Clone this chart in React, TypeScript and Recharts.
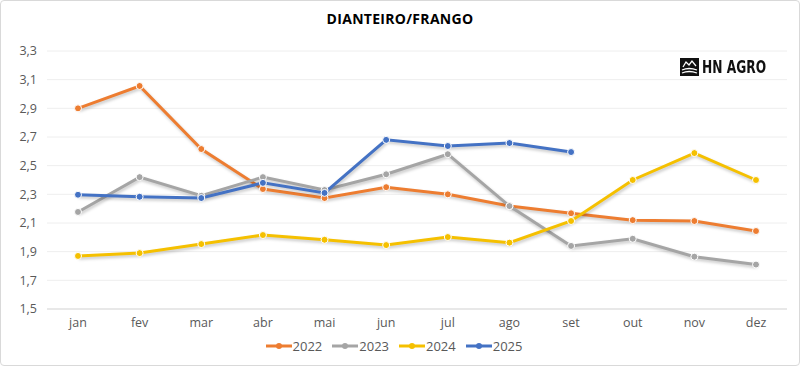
import { CartesianGrid, Legend, Line, LineChart, XAxis, YAxis } from "recharts";

const months = ["jan", "fev", "mar", "abr", "mai", "jun", "jul", "ago", "set", "out", "nov", "dez"];
const y2022 = [2.9, 3.056, 2.616, 2.337, 2.274, 2.35, 2.3, 2.218, 2.168, 2.12, 2.114, 2.044];
const y2023 = [2.177, 2.42, 2.29, 2.42, 2.33, 2.44, 2.58, 2.218, 1.94, 1.99, 1.865, 1.81];
const y2024 = [1.87, 1.89, 1.953, 2.016, 1.983, 1.946, 2.002, 1.963, 2.114, 2.4, 2.588, 2.4];
const y2025 = [2.297, 2.283, 2.274, 2.38, 2.31, 2.68, 2.637, 2.658, 2.595];
const yTicks = [1.5, 1.7, 1.9, 2.1, 2.3, 2.5, 2.7, 2.9, 3.1, 3.3];

const series = [
  { key: "2022", color: "#ED7D31" },
  { key: "2023", color: "#A5A5A5" },
  { key: "2024", color: "#F5C000" },
  { key: "2025", color: "#4472C4" }
];

const data = months.map((m, i) => ({
  month: m,
  "2022": y2022[i],
  "2023": y2023[i],
  "2024": y2024[i],
  "2025": y2025[i]
}));

const font = "'Open Sans', 'Noto Sans', sans-serif";

function LegendContent() {
  return (
    <div style={{ display: "flex", justifyContent: "center", gap: 10, fontFamily: font, fontSize: 13, color: "#595959", marginTop: -2 }}>
      {series.map((s) => (
        <div key={s.key} style={{ display: "flex", alignItems: "center", gap: 1 }}>
          <svg width={26} height={10}>
            <line x1={0} y1={5} x2={26} y2={5} stroke={s.color} strokeWidth={3} />
            <circle cx={13} cy={5} r={3} fill={s.color} />
          </svg>
          <span>{s.key}</span>
        </div>
      ))}
    </div>
  );
}

export default function App() {
  return (
    <div
      style={{
        position: "absolute",
        left: 0,
        top: 0,
        width: 798,
        height: 364,
        border: "1px solid #d9d9d9",
        borderRadius: 4,
        background: "#fff",
        fontFamily: font
      }}
    >
      <style>{`.recharts-line-curve { filter: drop-shadow(1px 2px 1.5px rgba(0,0,0,0.22)); }`}</style>
      <div style={{ position: "absolute", top: 8, width: "100%", textAlign: "center", fontWeight: 700, fontSize: 14, color: "#000", letterSpacing: 0.3 }}>
        DIANTEIRO/FRANGO
      </div>
      <div style={{ position: "absolute", left: 679, top: 56, display: "flex", alignItems: "center", gap: 3 }}>
        <svg width={19} height={18}>
          <rect x={0} y={0} width={19} height={18} fill="#111" />
          <path d="M2 12 Q9 9 17 12" stroke="#fff" strokeWidth={1.3} fill="none" />
          <path d="M2 15 Q9 12 17 15" stroke="#fff" strokeWidth={1.3} fill="none" />
          <path d="M3 9 L6 4 L9 7 L12 3 L16 8" stroke="#fff" strokeWidth={1.3} fill="none" />
        </svg>
        <span
          style={{
            display: "inline-block",
            fontFamily: "'DejaVu Sans', sans-serif",
            fontWeight: 700,
            fontSize: 17,
            color: "#111",
            transform: "scaleX(0.72)",
            transformOrigin: "left center",
            whiteSpace: "nowrap"
          }}
        >
          HN AGRO
        </span>
      </div>
      <LineChart width={798} height={364} data={data} margin={{ top: 50, right: 12, left: 0, bottom: 4 }}>
        <CartesianGrid vertical={false} stroke="#eeeeee" />
        <XAxis
          dataKey="month"
          height={30}
          padding={{ left: 31, right: 31 }}
          tickLine={false}
          axisLine={{ stroke: "#d9d9d9" }}
          tick={{ fill: "#595959", fontSize: 12.5, fontFamily: font }}
          tickMargin={3}
        />
        <YAxis
          width={46}
          domain={[1.5, 3.3]}
          ticks={yTicks}
          axisLine={false}
          tickLine={false}
          tick={{ fill: "#595959", fontSize: 12.5, fontFamily: font }}
          tickFormatter={(v: number) => v.toFixed(1).replace(".", ",")}
          tickMargin={4}
        />
        <Legend verticalAlign="bottom" height={22} content={() => <LegendContent />} />
        {series.map((s) => (
          <Line
            key={s.key}
            dataKey={s.key}
            stroke={s.color}
            strokeWidth={3}
            dot={{ r: 3.5, fill: s.color, stroke: "#fff", strokeWidth: 1 }}
            activeDot={false}
            isAnimationActive={false}
            connectNulls={false}
          />
        ))}
      </LineChart>
    </div>
  );
}
